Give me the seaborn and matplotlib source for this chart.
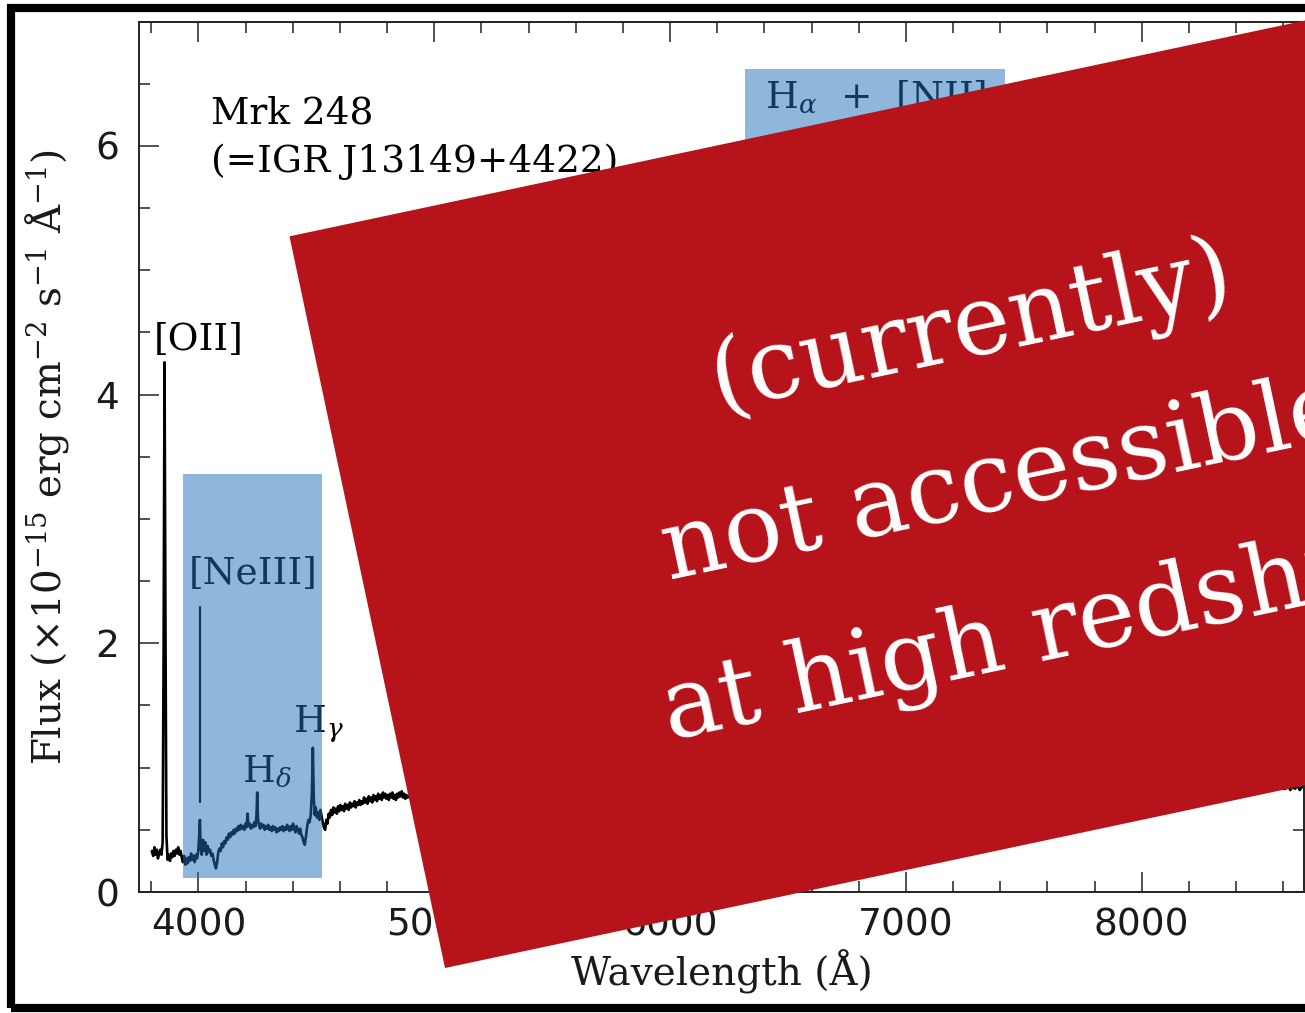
import matplotlib
matplotlib.use("Agg")
import matplotlib.pyplot as plt
import pandas as pd
import seaborn as sns
from matplotlib.patches import Rectangle
from matplotlib.ticker import MultipleLocator

# Optical spectrum of Mrk 248 (flux in 1e-15 erg cm^-2 s^-1 A^-1)
wavelength = [
    3802, 3808, 3813, 3818, 3823, 3828, 3833, 3838, 3843, 3848,
    3852, 3856, 3860, 3864, 3869, 3874, 3879, 3884, 3889, 3894,
    3899, 3904, 3909, 3914, 3919, 3924, 3929, 3934, 3939, 3944,
    3949, 3954, 3959, 3964, 3969, 3974, 3979, 3984, 3989, 3994,
    3999, 4003, 4006, 4009, 4014, 4019, 4024, 4029, 4034, 4039,
    4044, 4049, 4054, 4059, 4064, 4069, 4074, 4079, 4084, 4089,
    4094, 4099, 4104, 4109, 4114, 4119, 4124, 4129, 4134, 4139,
    4144, 4149, 4154, 4159, 4164, 4169, 4174, 4179, 4184, 4189,
    4194, 4199, 4204, 4208, 4212, 4217, 4222, 4227, 4232, 4237,
    4242, 4246, 4249, 4252, 4256, 4261, 4266, 4271, 4276, 4281,
    4286, 4291, 4296, 4301, 4306, 4311, 4316, 4321, 4326, 4331,
    4336, 4341, 4346, 4351, 4356, 4361, 4366, 4371, 4376, 4381,
    4386, 4391, 4396, 4401, 4406, 4411, 4416, 4421, 4426, 4431,
    4436, 4441, 4446, 4451, 4456, 4461, 4466, 4471, 4476, 4481,
    4485, 4489, 4493, 4497, 4502, 4507, 4512, 4517, 4522, 4527,
    4532, 4537, 4542, 4547, 4552, 4557, 4562, 4567, 4572, 4577,
    4582, 4587, 4592, 4597, 4602, 4607, 4612, 4617, 4622, 4627,
    4632, 4637, 4642, 4647, 4652, 4657, 4662, 4667, 4672, 4677,
    4682, 4687, 4692, 4697, 4702, 4707, 4712, 4717, 4722, 4727,
    4732, 4737, 4742, 4747, 4752, 4757, 4762, 4767, 4772, 4777,
    4782, 4787, 4792, 4797, 4802, 4807, 4812, 4817, 4822, 4827,
    4832, 4837, 4842, 4847, 4852, 4857, 4862, 4867, 4872, 4877,
    4882, 4887, 4900, 4920, 4940, 4960, 4980, 5000, 5020, 5035,
    5041, 5047, 5060, 5080, 5100, 5120, 5130, 5138, 5142, 5147,
    5160, 5180, 5188, 5192, 5197, 5210, 5250, 5300, 5350, 5400,
    5450, 5500, 5550, 5600, 5650, 5700, 5750, 5800, 5850, 5900,
    5950, 6000, 6050, 6100, 6150, 6200, 6250, 6300, 6350, 6400,
    6450, 6500, 6550, 6600, 6650, 6700, 6750, 6780, 6790, 6800,
    6806, 6812, 6818, 6824, 6830, 6840, 6870, 6900, 6950, 6964,
    6978, 6990, 7050, 7100, 7150, 7200, 7250, 7300, 7350, 7400,
    7450, 7500, 7550, 7590, 7610, 7640, 7700, 7750, 7800, 7850,
    7900, 7950, 8000, 8050, 8100, 8150, 8200, 8250, 8300, 8350,
    8400, 8450, 8500, 8550, 8600, 8610, 8620, 8630, 8640, 8650,
    8660, 8670, 8680, 8690,
]
flux = [
    0.33, 0.29, 0.36, 0.30, 0.34, 0.27, 0.31, 0.34, 0.30, 0.40,
    1.90, 4.26, 2.10, 0.45, 0.26, 0.30, 0.25, 0.31, 0.28, 0.33,
    0.29, 0.34, 0.31, 0.36, 0.30, 0.33, 0.28, 0.24, 0.29, 0.22,
    0.27, 0.23, 0.28, 0.25, 0.31, 0.26, 0.29, 0.24, 0.30, 0.27,
    0.33, 0.45, 0.58, 0.36, 0.30, 0.42, 0.33, 0.40, 0.30, 0.37,
    0.32, 0.34, 0.29, 0.31, 0.26, 0.22, 0.19, 0.24, 0.32, 0.35,
    0.33, 0.39, 0.36, 0.41, 0.39, 0.44, 0.42, 0.47, 0.44, 0.48,
    0.46, 0.50, 0.47, 0.51, 0.49, 0.53, 0.50, 0.54, 0.51, 0.53,
    0.50, 0.55, 0.52, 0.63, 0.53, 0.55, 0.51, 0.54, 0.52, 0.56,
    0.53, 0.62, 0.80, 0.60, 0.54, 0.51, 0.55, 0.52, 0.54, 0.50,
    0.53, 0.51, 0.54, 0.50, 0.52, 0.49, 0.53, 0.50, 0.52, 0.48,
    0.51, 0.49, 0.52, 0.50, 0.53, 0.49, 0.52, 0.50, 0.54, 0.51,
    0.49, 0.53, 0.50, 0.55, 0.51, 0.48, 0.53, 0.50, 0.47, 0.51,
    0.46, 0.44, 0.40, 0.38, 0.45, 0.53, 0.58, 0.56, 0.62, 0.80,
    1.16, 0.75, 0.62, 0.68, 0.60, 0.64, 0.58, 0.66, 0.61, 0.56,
    0.52, 0.50, 0.58, 0.55, 0.63, 0.60, 0.66, 0.62, 0.68, 0.64,
    0.67, 0.63, 0.69, 0.65, 0.70, 0.66, 0.69, 0.65, 0.71, 0.67,
    0.70, 0.66, 0.72, 0.68, 0.71, 0.69, 0.73, 0.68, 0.72, 0.70,
    0.74, 0.70, 0.73, 0.71, 0.76, 0.72, 0.75, 0.71, 0.77, 0.73,
    0.76, 0.72, 0.78, 0.74, 0.77, 0.73, 0.79, 0.75, 0.78, 0.74,
    0.80, 0.76, 0.79, 0.75, 0.78, 0.74, 0.79, 0.76, 0.80, 0.75,
    0.78, 0.74, 0.79, 0.76, 0.80, 0.77, 0.81, 0.76, 0.79, 0.75,
    0.78, 0.76, 0.78, 0.80, 0.77, 0.81, 0.79, 0.82, 0.80, 0.95,
    1.35, 0.90, 0.81, 0.83, 0.80, 0.84, 0.83, 0.95, 1.30, 0.90,
    0.84, 0.86, 1.40, 2.40, 1.20, 0.85, 0.86, 0.88, 0.85, 0.87,
    0.89, 0.86, 0.88, 0.90, 0.87, 0.89, 0.88, 0.91, 0.88, 0.90,
    0.87, 0.89, 0.91, 0.88, 0.90, 0.89, 0.92, 0.90, 0.88, 0.91,
    0.89, 0.90, 0.92, 0.89, 0.91, 0.90, 0.92, 0.98, 1.40, 2.20,
    3.60, 2.00, 1.50, 1.90, 1.30, 0.95, 0.91, 0.90, 0.93, 1.05,
    1.02, 0.91, 0.89, 0.90, 0.88, 0.89, 0.87, 0.88, 0.86, 0.87,
    0.85, 0.86, 0.84, 0.70, 0.72, 0.83, 0.85, 0.84, 0.86, 0.83,
    0.85, 0.84, 0.86, 0.83, 0.85, 0.84, 0.86, 0.83, 0.85, 0.84,
    0.86, 0.83, 0.85, 0.84, 0.83, 0.83, 0.86, 0.82, 0.85, 0.83,
    0.86, 0.82, 0.85, 0.84,
]

# Shaded wavelength windows: (x0, x1, y0, y1) in data units
window_x0 = [3933, 6318]
window_x1 = [4522, 7420]
window_y0 = [0.11, 1.0]
window_y1 = [3.36, 6.62]

# Line identifications
line_names = ["[OII]", "[NeIII]", r"H$_\delta$", r"H$_\gamma$", r"H$_\alpha$  +  [NII]"]
line_name_x = [3810, 3960, 4183, 4402, 6402]
line_name_y = [4.36, 2.48, 0.885, 1.287, 6.30]

# [NeIII] marker
neiii_x = 4006
neiii_y = [0.72, 2.29]

object_name = ["Mrk 248", "(=IGR J13149+4422)"]
object_name_y = [6.18, 5.79]
object_name_x = 4053

banner_lines = ["(currently)", "not accessible", "at high redshift"]

sns.set_theme(style="ticks")
plt.rcParams["font.family"] = ["DejaVu Sans"]
plt.rcParams["mathtext.fontset"] = "dejavuserif"

W, H = 1305, 1013
fig = plt.figure(figsize=(W / 100, H / 100), dpi=100)
fig.patch.set_facecolor("white")
ax = fig.add_axes([139.3 / W, 121.0 / H, 1164.2 / W, 870.4 / H])
ax.set_facecolor("white")

df = pd.DataFrame({"wavelength": wavelength, "flux": flux})
sns.lineplot(data=df, x="wavelength", y="flux", ax=ax, color="black",
             linewidth=1.9, estimator=None, sort=False, zorder=2)

ax.plot([neiii_x, neiii_x], neiii_y, color="black", lw=1.6, zorder=2)

serif = "DejaVu Serif"
for s, x, y in zip(line_names, line_name_x, line_name_y):
    ax.text(x, y, s, family=serif, fontsize=27, ha="left", va="baseline",
            color="black", zorder=1)
for s, y in zip(object_name, object_name_y):
    ax.text(object_name_x, y, s, family=serif, fontsize=27, ha="left",
            va="baseline", color="black", zorder=1)

for x0, x1, y0, y1 in zip(window_x0, window_x1, window_y0, window_y1):
    ax.add_patch(Rectangle((x0, y0), x1 - x0, y1 - y0,
                           facecolor=(0.13, 0.44, 0.73), alpha=0.5,
                           edgecolor="none", zorder=3))

ax.set_xlim(3749, 8686)
ax.set_ylim(0, 7)
ax.xaxis.set_major_locator(MultipleLocator(1000))
ax.xaxis.set_minor_locator(MultipleLocator(200))
ax.yaxis.set_major_locator(MultipleLocator(2))
ax.yaxis.set_minor_locator(MultipleLocator(0.5))
ax.tick_params(which="both", direction="in", top=True, right=True,
               width=1.1, color="#222222", labelcolor="#1a1a1a")
ax.tick_params(which="major", length=14.4)
ax.tick_params(which="minor", length=7.9)
ax.tick_params(axis="x", labelsize=27, pad=10.8)
ax.tick_params(axis="y", labelsize=27, pad=14.5)
for sp in ax.spines.values():
    sp.set_linewidth(1.4)
    sp.set_color("#222222")

ax.set_xlabel("Wavelength (Å)", family=serif, fontsize=28, color="#1a1a1a")
ax.xaxis.set_label_coords(0.5, -0.1079)
ax.xaxis.label.set_va("baseline")
ax.set_ylabel(r"Flux ($\times$10$^{-15}$ erg cm$^{-2}$ s$^{-1}$ Å$^{-1}$)",
              family=serif, fontsize=28, color="#1a1a1a")
ax.yaxis.set_label_coords(-0.0793, 0.5)
ax.yaxis.label.set_va("center")

# Slanted red banner laid over the plot
inch = fig.dpi_scale_trans
fig.add_artist(Rectangle((4.45, 0.45), 13.0, 7.48, angle=12,
                         transform=inch, facecolor="#b7131b",
                         edgecolor="none", zorder=5))
banner_pos = [(9.77, 6.59), (10.10, 5.055), (10.43, 3.52)]
for s, (bx, by) in zip(banner_lines, banner_pos):
    fig.text(bx, by, s, transform=inch, rotation=12, rotation_mode="anchor",
             ha="center", va="baseline", fontsize=70, color="white",
             family=serif, zorder=6)

# Outer frame (open on the right)
fig.add_artist(Rectangle((0.105, 0.055), 14.0, 10.0, transform=inch,
                         fill=False, edgecolor="black", linewidth=5.9,
                         zorder=10))

fig.savefig("out.png", dpi=100)
